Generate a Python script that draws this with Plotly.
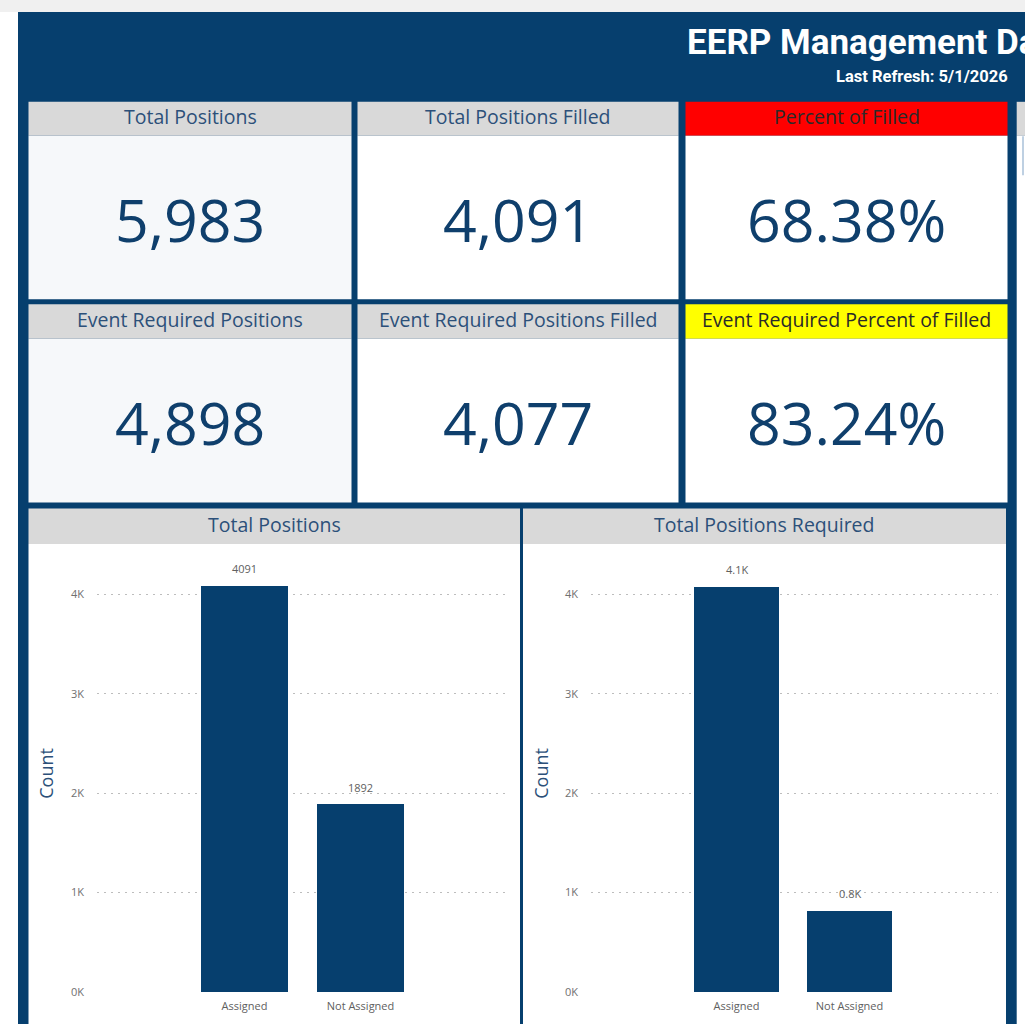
import plotly.graph_objects as go

W, H = 1025, 1024
HY = 1016  # vertical pixel scale used when placing items in paper coordinates

# ---------------- data ----------------
categories = ["Assigned", "Not Assigned"]
total_counts = [4091, 1892]
total_labels = ["4091", "1892"]
required_counts = [4077, 821]
required_labels = ["4.1K", "0.8K"]
y_tick_vals = [0, 1000, 2000, 3000, 4000]
y_tick_text = ["0K", "1K", "2K", "3K", "4K"]

card_titles = ["Total Positions", "Total Positions Filled", "Percent of Filled",
               "Event Required Positions", "Event Required Positions Filled",
               "Event Required Percent of Filled"]
card_values = ["5,983", "4,091", "68.38%", "4,898", "4,077", "83.24%"]
chart_titles = ["Total Positions", "Total Positions Required"]
dashboard_title = "EERP Management Dashboard"
refresh_text = "Last Refresh: 5/1/2026"

# ---------------- style ----------------
BLUE = "#063f6e"
GRAY_HDR = "#d9d9d9"
LIGHT_BODY = "#f6f8fa"
HDR_TEXT = "#2c5079"
VAL_TEXT = "#0f3f6c"
LABEL_GRAY = "#606060"
FONT = "Open Sans, Noto Sans, sans-serif"


def fx(x):
    return x / W


def fy(y):
    return 1 - y / HY


shapes = []


def rect(x0, y0, x1, y1, color):
    shapes.append(dict(type="rect", xref="paper", yref="paper",
                       x0=fx(x0), x1=fx(x1), y0=fy(y1), y1=fy(y0),
                       fillcolor=color, line=dict(width=0), layer="below"))


annotations = []


def text(x, y, s, size, color, family=FONT, xanchor="center", bold=False, angle=0):
    annotations.append(dict(x=fx(x), y=fy(y), xref="paper", yref="paper",
                            text=("<b>%s</b>" % s) if bold else s, showarrow=False,
                            xanchor=xanchor, yanchor="middle", textangle=angle,
                            font=dict(size=size, color=color, family=family)))


# page background strips
rect(0, 0, W, 12, "#f0f0f0")
rect(0, 12, 18, H + 20, "#ffffff")

# header texts
text(685, 42.5, dashboard_title, 35, "#ffffff", family="Roboto, Liberation Sans, sans-serif",
     xanchor="left", bold=True)
text(1010, 76, refresh_text, 16.5, "#ffffff", family="Roboto, Liberation Sans, sans-serif",
     xanchor="right", bold=True)

# cards
col_x = [(28.5, 351.5), (357.5, 678.5), (685.5, 1007.5)]
row_y = [(101.7, 135.5, 299), (304, 338.5, 502)]
hdr_colors = [GRAY_HDR, GRAY_HDR, "#ff0000"]
hdr_text_colors = [HDR_TEXT, HDR_TEXT, "#2a2a2a"]
for r, (ht, hb, bb) in enumerate(row_y):
    for c, (x0, x1) in enumerate(col_x):
        i = r * 3 + c
        hc = hdr_colors[c]
        if r == 1 and c == 2:
            hc = "#ffff00"
        rect(x0, ht, x1, hb, hc)
        rect(x0, hb, x1, bb, LIGHT_BODY if c == 0 else "#ffffff")
        text((x0 + x1) / 2, (ht + hb) / 2 - 2.5, card_titles[i], 19.5, hdr_text_colors[c])
        text((x0 + x1) / 2, (hb + bb) / 2 + 1.5, card_values[i], 59, VAL_TEXT)

# partially visible card at right edge
rect(1016.7, 101.7, W, 135.7, GRAY_HDR)
rect(1016.7, 135.7, W, H + 20, "#ffffff")
shapes.append(dict(type="line", xref="paper", yref="paper", x0=fx(1023), x1=fx(1023),
                   y0=fy(136), y1=fy(175), line=dict(color="#a9c1d9", width=1.5), layer="below"))

# chart panels
chart_x = [(28.5, 520), (523, 1006)]
for k, (x0, x1) in enumerate(chart_x):
    rect(x0, 508, x1, 543.5, GRAY_HDR)
    rect(x0, 543.5, x1, H + 20, "#ffffff")
    text((x0 + x1) / 2, 523.5, chart_titles[k], 19.5, HDR_TEXT)

# y axis titles
text(46, 773, "Count", 18, HDR_TEXT, angle=-90)
text(541, 773, "Count", 18, HDR_TEXT, angle=-90)

# bar value labels (placed at the data values through the axes)
for xa, ya, vals, labels in (("x", "y", total_counts, total_labels),
                             ("x2", "y2", required_counts, required_labels)):
    for cat, v, lab in zip(categories, vals, labels):
        annotations.append(dict(x=cat, y=v, xref=xa, yref=ya, text=lab, showarrow=False,
                                xanchor="center", yanchor="middle", yshift=17,
                                font=dict(size=11, color=LABEL_GRAY, family=FONT)))

fig = go.Figure()
fig.add_trace(go.Bar(x=categories, y=total_counts,
                     marker=dict(color=BLUE, line=dict(width=0)), width=0.75,
                     xaxis="x", yaxis="y", showlegend=False))
fig.add_trace(go.Bar(x=categories, y=required_counts,
                     marker=dict(color=BLUE, line=dict(width=0)), width=0.752,
                     xaxis="x2", yaxis="y2", showlegend=False))

y_top_px = 560
y_zero_px = 991
y_4k_px = 594
y_max = 4000 * (y_zero_px - y_top_px) / (y_zero_px - y_4k_px)

common_y = dict(range=[0, y_max], tickvals=y_tick_vals, ticktext=y_tick_text,
                showgrid=True, gridcolor="#bdbdbd", griddash="2px,5px", gridwidth=1,
                zeroline=False, showline=False, ticks="",
                tickfont=dict(size=11, color="#707070", family=FONT),
                ticklabelstandoff=12, fixedrange=True)
common_x = dict(type="category", showgrid=False, zeroline=False, showline=False, ticks="",
                tickfont=dict(size=11, color=LABEL_GRAY, family=FONT),
                ticklabelstandoff=6, fixedrange=True)

fig.update_layout(
    width=W, height=H, margin=dict(l=0, r=0, t=0, b=0),
    paper_bgcolor=BLUE, plot_bgcolor="rgba(0,0,0,0)",
    shapes=shapes, annotations=annotations, bargap=0,
    xaxis=dict(domain=[fx(97), fx(510)], range=[-1.2716, 2.2888], anchor="y", **common_x),
    yaxis=dict(domain=[fy(y_zero_px), fy(y_top_px)], anchor="x", **common_y),
    xaxis2=dict(domain=[fx(591), fx(998)], range=[-1.2876, 2.314], anchor="y2", **common_x),
    yaxis2=dict(domain=[fy(y_zero_px), fy(y_top_px)], anchor="x2", **common_y),
    font=dict(family=FONT),
)

fig.write_html("out.html", config={"displayModeBar": False},
               post_script="document.documentElement.style.margin='0';"
                           "document.body.style.margin='0';"
                           "document.body.style.overflow='hidden';"
                           "document.documentElement.style.overflow='hidden';")
